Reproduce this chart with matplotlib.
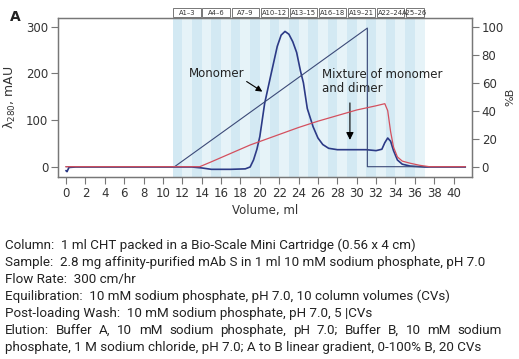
import numpy as np
import matplotlib
matplotlib.use("Agg")
import matplotlib.pyplot as plt
from matplotlib.patches import Rectangle

# UV trace (volume ml, A280 mAU)
uv_vol = [0, 0.1, 0.3, 1, 5, 11, 13, 14, 15, 17, 18.5, 19.0, 19.35, 19.7, 20.0, 20.5,
          21.1, 21.8, 22.2, 22.6, 23.0, 23.4, 23.8, 24.2, 24.5, 24.9, 25.5, 26.0,
          26.5, 27.1, 28, 30, 31, 32, 32.6, 32.9, 33.2, 33.5, 33.8, 34.2, 34.7,
          35.5, 37, 41.2]
uv_mau = [-8, -10, -1, 0, 0, 0, 0, -2, -5, -5, -4, 0, 15, 38, 65, 136,
          193, 258, 282, 290, 284, 268, 245, 205, 180, 125, 86, 62,
          48, 40, 37, 37, 37, 35, 38, 52, 62, 55, 35, 15, 6,
          2, 0, 0]

# conductivity trace (%B scale)
cond_vol = [0, 13.8, 15, 16, 17, 18, 19, 20, 22, 24, 26, 28, 30, 32, 32.9, 33.2,
            33.5, 33.8, 34.2, 34.7, 35.5, 36.5, 37.5, 41.2]
cond_pct = [0, 0, 3.5, 6.5, 9.5, 12.5, 15.5, 18, 23, 28, 32.5, 36.5, 40.5, 43.5, 45, 40,
            25, 14, 7, 4, 2.5, 1, 0, 0]

# programmed gradient (%B)
grad_vol = [0, 11.2, 31.1, 31.1, 41.2]
grad_pct = [0, 0, 99, 0, 0]

# fractions, 1 ml each
frac_start = 11
frac_count = 26
frac_groups = ["A1\u20133", "A4\u20136", "A7\u20139", "A10\u201312", "A13\u201315",
               "A16\u201318", "A19\u201321", "A22\u201324", "A25\u201326"]
frac_group_size = [3, 3, 3, 3, 3, 3, 3, 3, 2]

notes = [
    "Column:  1 ml CHT packed in a Bio-Scale Mini Cartridge (0.56 x 4 cm)",
    "Sample:  2.8 mg affinity-purified mAb S in 1 ml 10 mM sodium phosphate, pH 7.0",
    "Flow Rate:  300 cm/hr",
    "Equilibration:  10 mM sodium phosphate, pH 7.0, 10 column volumes (CVs)",
    "Post-loading Wash:  10 mM sodium phosphate, pH 7.0, 5 |CVs",
    "Elution:   Buffer A, 10 mM sodium phosphate, pH 7.0; Buffer B, 10 mM sodium",
    "phosphate, 1 M sodium chloride, pH 7.0; A to B linear gradient, 0-100% B, 20 CVs",
]

W, H = 519, 359
fig = plt.figure(figsize=(W / 100, H / 100), dpi=100)
ax = fig.add_axes([58 / W, 1 - 177 / H, (472 - 58) / W, (177 - 17.7) / H])
ax2 = ax.twinx()

tick_color = "#333333"
spine_color = "#777777"

# fraction stripes
for i in range(frac_count):
    c = "#d3e9f3" if i % 2 == 0 else "#e6f3f8"
    ax.axvspan(frac_start + i, frac_start + i + 1, color=c, lw=0, zorder=0)

ax.plot(uv_vol, uv_mau, color="#2c3a86", lw=1.2, zorder=4)
ax2.plot(grad_vol, grad_pct, color="#3c4a78", lw=0.8, zorder=3)
ax2.plot(cond_vol, cond_pct, color="#d4505e", lw=0.9, zorder=3)

ax.set_xlim(-0.83, 41.9)
ax.set_ylim(-21.4, 319.3)
ax2.set_ylim(-7.36, 106.4)
ax.set_xticks(range(0, 41, 2))
ax.set_yticks([0, 100, 200, 300])
ax2.set_yticks([0, 20, 40, 60, 80, 100])

for a in (ax, ax2):
    a.tick_params(colors=spine_color, labelcolor=tick_color, labelsize=8.5,
                  length=5, width=0.8, pad=2)
    for s in a.spines.values():
        s.set_color(spine_color)
        s.set_linewidth(0.9)

ax.set_xlabel("Volume, ml", fontsize=8.5, color=tick_color, labelpad=3)
ax.set_ylabel("\u03bb$_{280}$, mAU", fontsize=9, color=tick_color, labelpad=6)
ax2.set_ylabel("%B", fontsize=8, color=tick_color, labelpad=1, rotation=90)

# fraction label boxes above the plot
trans = ax.get_xaxis_transform()
pos = frac_start
for lab, n in zip(frac_groups, frac_group_size):
    box = Rectangle((pos + 0.08, 1.003), n - 0.16, 0.055, transform=trans,
                    facecolor="white", edgecolor="#777777", lw=0.7, clip_on=False)
    ax.add_patch(box)
    ax.text(pos + n / 2, 1.031, lab, transform=trans, ha="center", va="center",
            fontsize=4.9, color="#333333", clip_on=False)
    pos += n

# annotations
ax.annotate("", xy=(20.5, 158), xytext=(18.4, 186),
            arrowprops=dict(arrowstyle="-|>", color="black", lw=0.8,
                            mutation_scale=9), zorder=6)
ax.text(15.5, 201, "Monomer", fontsize=8.5, color="#222222", ha="center", va="center",
        zorder=6)
ax.text(26.4, 183, "Mixture of monomer\nand dimer", fontsize=8.5, color="#222222",
        ha="left", va="center", linespacing=1.1, zorder=6)
ax.annotate("", xy=(29.3, 52), xytext=(29.3, 143),
            arrowprops=dict(arrowstyle="-|>", color="black", lw=0.8,
                            mutation_scale=11), zorder=6)

fig.text(10 / W, 1 - 17 / H, "A", fontsize=10, fontweight="bold", color="#222222",
         ha="left", va="center")

# notes below the chart
font = "Roboto"
fs = 9.6
y0 = 249.5  # baseline of first line, px from top
dy = 16.9
for k, line in enumerate(notes):
    y = 1 - (y0 + k * dy) / H
    if k == 5:
        # justified line: spread words over the full width
        words = line.split()
        fig.canvas.draw()
        r = fig.canvas.get_renderer()
        objs = [fig.text(0, y, w, fontsize=fs, family=font, color="#222222",
                         va="baseline") for w in words]
        widths = [o.get_window_extent(r).width for o in objs]
        x_left, x_right = 5, 502
        gap = (x_right - x_left - sum(widths)) / (len(words) - 1)
        x = x_left
        for o, w in zip(objs, widths):
            o.set_x(x / W)
            x += w + gap
    else:
        fig.text(5 / W, y, line, fontsize=fs, family=font, color="#222222",
                 ha="left", va="baseline")

fig.savefig("out.png", dpi=100)
